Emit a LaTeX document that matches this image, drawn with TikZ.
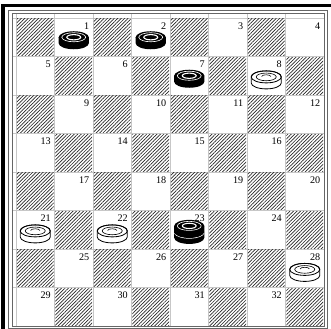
\documentclass[tikz,border=0pt]{standalone}
\usepackage{fontspec}
\setmainfont{Liberation Serif}
\usepackage{tikz}
\usetikzlibrary{patterns.meta}

\begin{document}
\begin{tikzpicture}[
    darksq/.style={
        pattern={Lines[angle=45,distance=1.8pt,line width=0.5pt]},
        pattern color=black!85
    },
    sqnum/.style={
        anchor=north east,
        inner sep=0pt,
        font=\fontsize{7.5}{8}\selectfont
    },
    gridline/.style={
        draw=black!22,
        line width=0.3pt
    },
    thinframe/.style={
        draw=black!60,
        line width=0.4pt
    },
    shadowbar/.style={
        draw=black,
        line width=#1
    },
    blackman/.pic={
        \fill[black] (-0.39,0) -- (-0.39,-0.156)
            arc[start angle=180,end angle=360,x radius=0.39,y radius=0.156]
            -- (0.39,0) -- cycle;
        \fill[black] (0,0) ellipse[x radius=0.39,y radius=0.156];
        \draw[white,line width=0.45pt] (0,0) ellipse[x radius=0.31,y radius=0.118];
        \draw[white,line width=0.8pt] (0,0) ellipse[x radius=0.18,y radius=0.068];
    },
    blackking/.pic={
        \fill[black] (-0.39,-0.156) -- (-0.39,-0.312)
            arc[start angle=180,end angle=360,x radius=0.39,y radius=0.156]
            -- (0.39,-0.156) -- cycle;
        \draw[white,line width=0.7pt] (-0.38,-0.19)
            arc[start angle=190,end angle=350,x radius=0.386,y radius=0.156];
        \pic {blackman};
    },
    whiteman/.pic={
        \filldraw[fill=white,draw=black,line width=0.6pt] (-0.39,0) -- (-0.39,-0.156)
            arc[start angle=180,end angle=360,x radius=0.39,y radius=0.156]
            -- (0.39,0) arc[start angle=0,end angle=180,x radius=0.39,y radius=0.156]
            -- cycle;
        \draw[line width=0.6pt] (0,0) ellipse[x radius=0.39,y radius=0.156];
        \draw[line width=0.45pt] (0,0) ellipse[x radius=0.26,y radius=0.1];
        \draw[line width=0.45pt] (-0.12,0.01)
            arc[start angle=180,end angle=0,x radius=0.12,y radius=0.045];
    }
]

% Page size
\useasboundingbox (-0.4156,-0.0779) rectangle (8.1818,8.4675);

% Faint grid
\foreach \i in {0,...,8} {
    \draw[gridline] (\i,0) -- (\i,8.13);
    \draw[gridline] (-0.104,\i) -- (8,\i);
}

% Squares and numbers
\foreach \r in {1,...,8} {
    \foreach \k in {1,...,4} {
        \pgfmathtruncatemacro{\p}{mod(\r,2)}
        \pgfmathtruncatemacro{\n}{4*(\r-1)+\k}
        \pgfmathtruncatemacro{\c}{2*\k-1+\p}
        \pgfmathtruncatemacro{\h}{2*\k-\p}
        \fill[darksq] (\h-0.975,8.025-\r) rectangle (\h-0.025,8.975-\r);
        \node[sqnum] (n\n) at ([xshift=-2.6pt,yshift=-3pt]\c,9-\r) {\n};
    }
}

% Pieces
\pic at (1.5,7.5) {blackman};
\pic at (3.5,7.5) {blackman};
\pic at (4.5,6.5) {blackman};
\pic at (6.5,6.47) {whiteman};
\pic at (0.5,2.47) {whiteman};
\pic at (2.5,2.47) {whiteman};
\pic at (4.5,2.6) {blackking};
\pic at (7.5,1.47) {whiteman};

% Frame
\draw[thinframe] (-0.208,-0.052) rectangle (8.078,8.208);
\draw[thinframe] (-0.104,0) rectangle (8,8.13);
\draw[shadowbar=2.95pt] (-0.338,-0.0779) -- (-0.338,8.364);
\draw[shadowbar=2.2pt] (-0.39,8.325) -- (8.1818,8.325);

\end{tikzpicture}
\end{document}
